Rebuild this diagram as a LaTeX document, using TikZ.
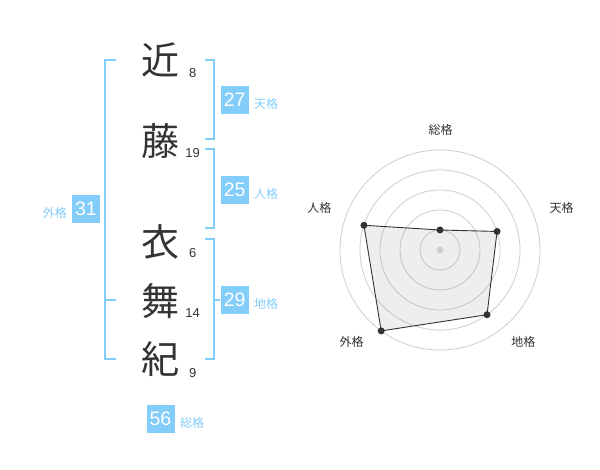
\documentclass[tikz,border=0pt]{standalone}
\usepackage{fontspec}
\setmainfont{Liberation Sans}
\newfontfamily\jp{Noto Sans CJK JP}
\definecolor{kblue}{RGB}{130,205,250}
\definecolor{ktext}{RGB}{51,51,51}
\definecolor{kgrid}{RGB}{205,205,205}
\tikzset{
  kanji/.style={font=\jp\fontsize{38}{38}\selectfont, text=ktext, inner sep=0pt},
  stroke/.style={font=\fontsize{13}{13}\selectfont, text=ktext, inner sep=0pt},
  scorebox/.style={fill=kblue, text=white, minimum width=28pt, minimum height=28pt, inner sep=0pt, font=\fontsize{19.5}{19.5}\selectfont},
  kaku/.style={font=\jp\fontsize{12}{12}\selectfont, text=kblue, inner sep=0pt},
  bracket/.style={draw=kblue, line width=2pt},
  axislabel/.style={font=\jp\fontsize{12}{12}\selectfont, text=ktext, inner sep=0pt},
  ring/.style={draw=kgrid, line width=0.8pt},
  vdot/.style={circle, fill=ktext, inner sep=0pt, minimum size=7pt},
}
\begin{document}
\begin{tikzpicture}[x=1pt,y=-1pt]
\useasboundingbox (0,0) rectangle (600,470);
% characters
\node[kanji] (c1) at (160,60) {近};
\node[kanji] (c2) at (160,141) {藤};
\node[kanji] (c3) at (160,242) {衣};
\node[kanji] (c4) at (160,301) {舞};
\node[kanji] (c5) at (160,359) {紀};
\node[stroke] (n1) at (192.7,72.7) {8};
\node[stroke] (n2) at (192.7,152.7) {19};
\node[stroke] (n3) at (192.7,253) {6};
\node[stroke] (n4) at (192.7,313) {14};
\node[stroke] (n5) at (192.7,372.7) {9};
% left bracket (gaikaku)
\draw[bracket] (116,60) -- (105,60) -- (105,359.5) -- (116,359.5);
\draw[bracket] (105,300) -- (116,300);
\node[scorebox] (b31) at (86,209) {31};
\node[kaku, anchor=east] (l31) at (67,213) {外格};
% right brackets
\draw[bracket] (205,60) -- (214,60) -- (214,139.5) -- (205,139.5);
\node[scorebox] (b27) at (234.7,100) {27};
\node[kaku, anchor=west] (l27) at (254,104) {天格};
\draw[bracket] (205,149.5) -- (214,149.5) -- (214,228.5) -- (205,228.5);
\node[scorebox] (b25) at (234.7,190) {25};
\node[kaku, anchor=west] (l25) at (254,194) {人格};
\draw[bracket] (205,239.5) -- (214,239.5) -- (214,359.5) -- (205,359.5);
\draw[bracket] (214,300) -- (220,300);
\node[scorebox] (b29) at (234.7,300) {29};
\node[kaku, anchor=west] (l29) at (254,304) {地格};
\node[scorebox] (b56) at (160.5,419) {56};
\node[kaku, anchor=west] (l56) at (180,423) {総格};
% radar chart
\begin{scope}[shift={(440,250)}, y=1pt]
  \foreach \r in {20,40,60,80,100} \draw[ring] (0,0) circle (\r);
  \fill[black!45!white, opacity=0.15] (90:20) -- (18:60) -- (-54:80) -- (-126:100) -- (162:80) -- cycle;
  \draw[ktext, line width=0.9pt] (90:20) coordinate (p1) -- (18:60) coordinate (p2) -- (-54:80) coordinate (p3) -- (-126:100) coordinate (p4) -- (162:80) coordinate (p5) -- cycle;
  \node[circle, fill=kgrid, inner sep=0pt, minimum size=7pt] (ctr) at (0,0) {};
  \foreach \p in {p1,p2,p3,p4,p5} \node[vdot] at (\p) {};
\end{scope}
\node[axislabel] (a1) at (440.7,130) {総格};
\node[axislabel] (a2) at (561.7,208.3) {天格};
\node[axislabel] (a3) at (523.3,341.7) {地格};
\node[axislabel] (a4) at (351.7,341.7) {外格};
\node[axislabel] (a5) at (319.3,208.3) {人格};
\end{tikzpicture}
\end{document}
